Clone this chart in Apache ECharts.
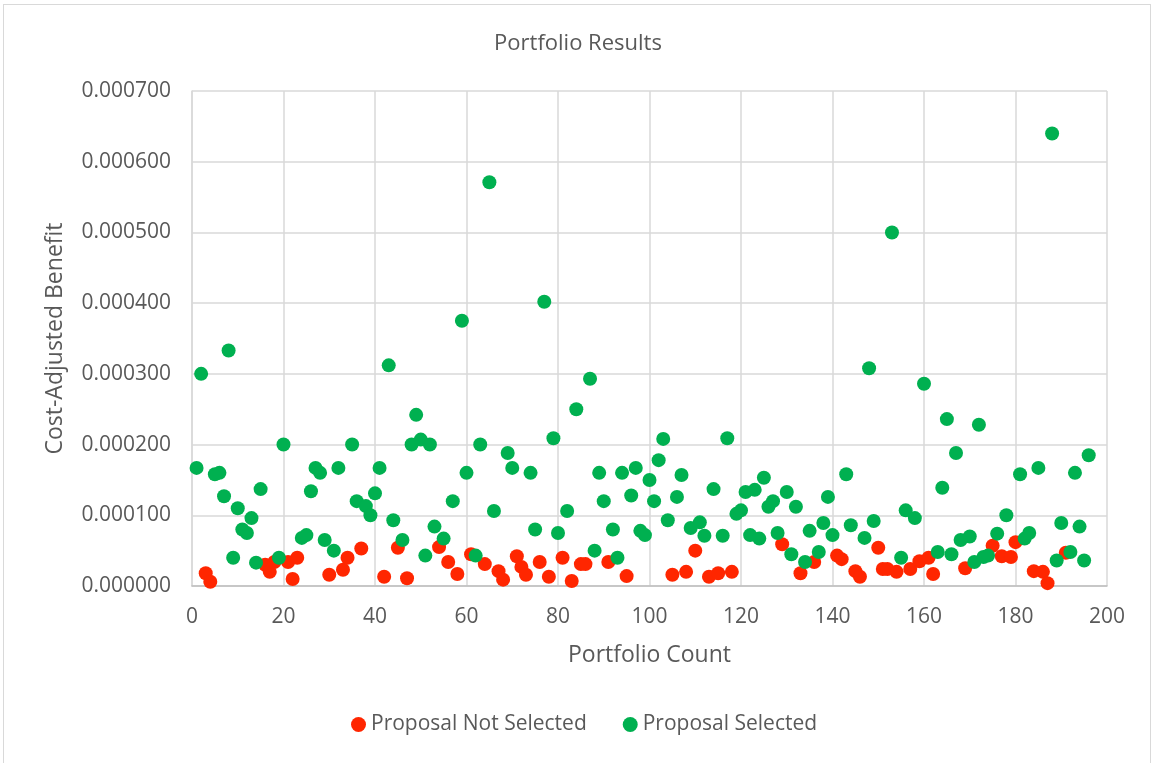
<!DOCTYPE html>
<html>
<head>
<meta charset="utf-8">
<script src="https://cdn.jsdelivr.net/npm/echarts@6/dist/echarts.min.js"></script>
<style>
html,body{margin:0;padding:0;background:#fff;}
#chart{position:absolute;left:0;top:0;width:1156px;height:763px;}
#frame{position:absolute;left:3px;top:4px;width:1148px;height:760px;border:1px solid #d9d9d9;box-sizing:border-box;pointer-events:none;}
</style>
</head>
<body>
<div id="chart"></div>
<div id="frame"></div>
<script>
// Portfolio count 1..196 (x), status (S = selected, R = not selected) and cost-adjusted benefit (y)
const portfolioIds = [];
for (let i = 1; i <= 196; i++) portfolioIds.push(i);
const statusFlags = [
'S','S','R','R','S','S','S','S','S','S',
'S','S','S','S','S','R','R','R','S','S',
'R','R','R','S','S','S','S','S','S','R',
'S','S','R','R','S','S','R','S','S','S',
'S','R','S','S','R','S','R','S','S','S',
'S','S','S','R','S','R','S','R','S','S',
'R','S','S','R','S','S','R','R','S','S',
'R','R','R','S','S','R','S','R','S','S',
'R','S','R','S','R','R','S','S','S','S',
'R','S','S','S','R','S','S','S','S','S',
'S','S','S','S','R','S','S','R','S','R',
'S','S','R','S','R','S','S','R','S','S',
'S','S','S','S','S','S','S','S','R','S',
'S','S','R','S','S','R','S','S','S','S',
'R','R','S','S','R','R','S','S','S','R',
'R','R','S','R','S','S','R','S','R','S',
'R','R','S','S','S','S','S','S','R','S',
'S','S','S','S','R','S','R','S','R','R',
'S','S','S','R','S','R','R','S','S','S',
'R','S','S','S','S','S'
];
const benefitValues = [
0.000167,0.000300,0.000018,0.000006,0.000158,0.000160,0.000127,0.000333,0.000040,0.000110,
0.000080,0.000075,0.000096,0.000033,0.000137,0.000030,0.000020,0.000034,0.000040,0.000200,
0.000034,0.000010,0.000040,0.000068,0.000072,0.000134,0.000167,0.000160,0.000065,0.000016,
0.000050,0.000167,0.000023,0.000040,0.000200,0.000120,0.000053,0.000113,0.000100,0.000131,
0.000167,0.000013,0.000312,0.000093,0.000054,0.000065,0.000011,0.000200,0.000242,0.000207,
0.000043,0.000200,0.000084,0.000055,0.000067,0.000034,0.000120,0.000017,0.000375,0.000160,
0.000045,0.000043,0.000200,0.000031,0.000571,0.000106,0.000021,0.000009,0.000188,0.000167,
0.000042,0.000027,0.000016,0.000160,0.000080,0.000034,0.000402,0.000013,0.000209,0.000075,
0.000040,0.000106,0.000007,0.000250,0.000031,0.000031,0.000293,0.000050,0.000160,0.000120,
0.000034,0.000080,0.000040,0.000160,0.000014,0.000128,0.000167,0.000078,0.000072,0.000150,
0.000120,0.000178,0.000208,0.000093,0.000016,0.000126,0.000157,0.000020,0.000082,0.000050,
0.000090,0.000071,0.000013,0.000137,0.000018,0.000071,0.000209,0.000020,0.000102,0.000107,
0.000133,0.000072,0.000136,0.000067,0.000153,0.000112,0.000120,0.000075,0.000059,0.000133,
0.000045,0.000112,0.000018,0.000034,0.000078,0.000034,0.000048,0.000089,0.000126,0.000072,
0.000043,0.000038,0.000158,0.000086,0.000021,0.000013,0.000068,0.000308,0.000092,0.000054,
0.000024,0.000024,0.000500,0.000020,0.000040,0.000107,0.000024,0.000096,0.000035,0.000286,
0.000040,0.000017,0.000048,0.000139,0.000236,0.000045,0.000188,0.000065,0.000025,0.000070,
0.000034,0.000228,0.000041,0.000043,0.000057,0.000074,0.000042,0.000100,0.000041,0.000062,
0.000158,0.000067,0.000075,0.000021,0.000167,0.000020,0.000004,0.000640,0.000036,0.000089,
0.000047,0.000048,0.000160,0.000084,0.000036,0.000185
];
const seriesNames = ["Proposal Not Selected", "Proposal Selected"];

const notSelected = [], selected = [];
portfolioIds.forEach((id, i) => {
  const pt = [id, benefitValues[i]];
  if (statusFlags[i] === 'S') selected.push(pt); else notSelected.push(pt);
});

const font = '"Open Sans", "Liberation Sans", sans-serif';
const chart = echarts.init(document.getElementById('chart'), null, {renderer: 'canvas'});
chart.setOption({
  animation: false,
  backgroundColor: '#fff',
  title: {
    text: 'Portfolio Results', left: 'center', top: 28,
    textStyle: {fontFamily: font, fontSize: 22, fontWeight: 'normal', color: '#595959'}
  },
  legend: {
    bottom: 23, left: 346, itemGap: 36, itemWidth: 15, itemHeight: 15,
    icon: 'circle',
    textStyle: {fontFamily: font, fontSize: 21, color: '#595959'},
    data: seriesNames
  },
  grid: {left: 192, right: 49, top: 91, bottom: 177},
  xAxis: {
    type: 'value', min: 0, max: 200, interval: 20,
    name: 'Portfolio Count', nameLocation: 'middle', nameGap: 58,
    nameTextStyle: {fontFamily: font, fontSize: 23, color: '#595959'},
    axisLine: {show: true, lineStyle: {color: '#bfbfbf', width: 1.5}},
    axisTick: {show: false},
    axisLabel: {fontFamily: font, fontSize: 21, color: '#595959', margin: 21},
    splitLine: {show: true, lineStyle: {color: '#d9d9d9', width: 1.5}}
  },
  yAxis: {
    type: 'value', min: 0, max: 0.0007, interval: 0.0001,
    name: 'Cost-Adjusted Benefit', nameLocation: 'middle', nameGap: 125, nameRotate: 90,
    nameTextStyle: {fontFamily: font, fontSize: 23, color: '#595959'},
    axisLine: {show: true, lineStyle: {color: '#d9d9d9', width: 1.5}},
    axisTick: {show: false},
    axisLabel: {fontFamily: font, fontSize: 21, color: '#595959', margin: 21,
      formatter: v => v.toFixed(6)},
    splitLine: {show: true, lineStyle: {color: '#d9d9d9', width: 1.5}}
  },
  series: [
    {name: seriesNames[0], type: 'scatter', symbol: 'circle', symbolSize: 14,
     itemStyle: {color: '#FF2600', opacity: 1}, data: notSelected, z: 2},
    {name: seriesNames[1], type: 'scatter', symbol: 'circle', symbolSize: 14,
     itemStyle: {color: '#00B050', opacity: 1}, data: selected, z: 3}
  ]
});
</script>
</body>
</html>
